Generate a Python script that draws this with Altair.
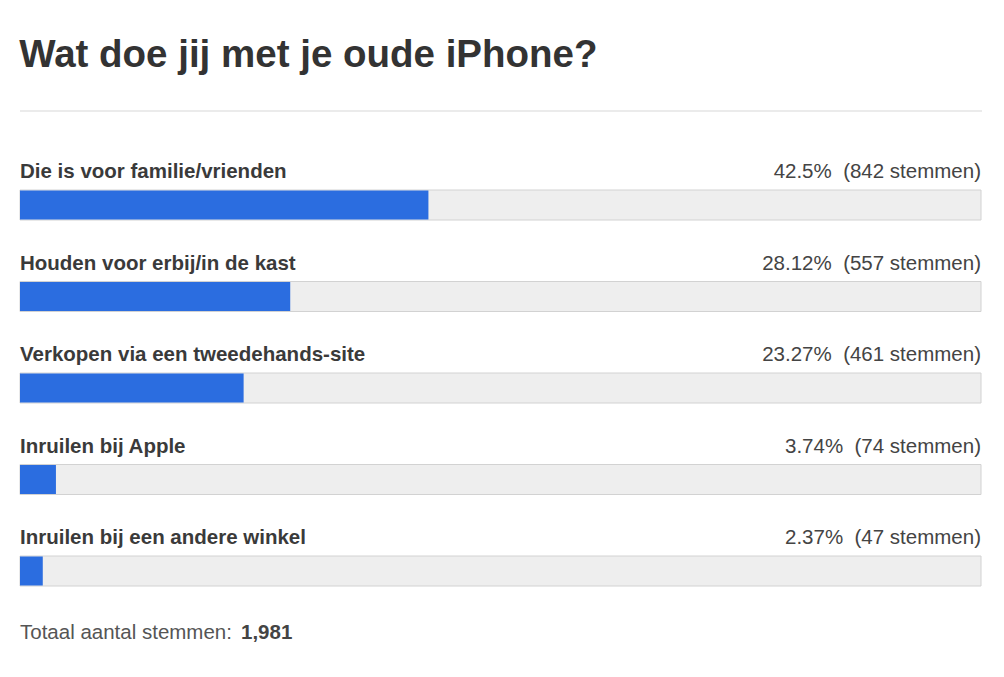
import altair as alt
import pandas as pd

title = "Wat doe jij met je oude iPhone?"
categories = [
    "Die is voor familie/vrienden",
    "Houden voor erbij/in de kast",
    "Verkopen via een tweedehands-site",
    "Inruilen bij Apple",
    "Inruilen bij een andere winkel",
]
percents = [42.5, 28.12, 23.27, 3.74, 2.37]
percent_labels = ["42.5%", "28.12%", "23.27%", "3.74%", "2.37%"]
votes = [842, 557, 461, 74, 47]
footer_label = "Totaal aantal stemmen:"

total = sum(votes)

df = pd.DataFrame({
    "cat": categories,
    "pct": percents,
    "row": list(range(len(categories))),
    "right": [f"{l}\u00a0 ({v} stemmen)" for l, v in zip(percent_labels, votes)],
})

FONT = "Liberation Sans"
FS = 20.5
xs = alt.Scale(domain=[0, 100], range=[0, 961])
ys = alt.Scale(domain=[0, 4], range=[94, 460], padding=0)

base = alt.Chart(df).transform_calculate(zero="0", full="100")

track = base.mark_bar(size=30, orient="horizontal", fill="#eeeeee", stroke="#d2d2d2", strokeWidth=1).encode(
    x=alt.X("zero:Q", scale=xs, axis=None),
    x2="full:Q",
    y=alt.Y("row:Q", scale=ys, axis=None),
)

bars = base.mark_bar(size=29, orient="horizontal", fill="#2b6de0").encode(
    x=alt.X("zero:Q", scale=xs, axis=None),
    x2="pct:Q",
    y=alt.Y("row:Q", scale=ys, axis=None),
)

labels = base.mark_text(align="left", baseline="middle", dy=-33, font=FONT, fontSize=FS,
                        fontWeight="bold", color="#3a3a3a").encode(
    x=alt.X("zero:Q", scale=xs, axis=None),
    y=alt.Y("row:Q", scale=ys, axis=None),
    text="cat:N",
)

rights = base.mark_text(align="right", baseline="middle", dy=-33, font=FONT, fontSize=FS,
                        color="#444444").encode(
    x=alt.X("full:Q", scale=xs, axis=None),
    y=alt.Y("row:Q", scale=ys, axis=None),
    text="right:N",
)

sep = alt.Chart(pd.DataFrame({"a": [0]})).mark_rule(color="#e4e4e4", strokeWidth=1.5).encode(
    x=alt.value(0), x2=alt.value(962), y=alt.value(0)
)

tdf = pd.DataFrame({"label": [footer_label], "total": [total]})
foot1 = alt.Chart(tdf).mark_text(align="left", baseline="middle", font=FONT, fontSize=FS,
                                 color="#555555").encode(
    x=alt.value(0), y=alt.value(522), text="label:N"
)
foot2 = alt.Chart(tdf).mark_text(align="left", baseline="middle", font=FONT, fontSize=FS,
                                 fontWeight="bold", color="#444444").encode(
    x=alt.value(221), y=alt.value(522), text=alt.Text("total:Q", format=",")
)

chart = alt.layer(sep, track, bars, labels, rights, foot1, foot2).properties(
    width=961,
    height=566,
    title=alt.TitleParams(text=title, anchor="start", fontSize=38.5, font=FONT, fontWeight="bold",
                          color="#333333", baseline="alphabetic", offset=5),
    padding={"left": 12, "top": 103, "right": 15, "bottom": 0},
    autosize=alt.AutoSizeParams(type="none"),
    background="white",
).configure_view(stroke=None)

chart.save("out.html", embed_options={"renderer": "svg", "actions": False})
